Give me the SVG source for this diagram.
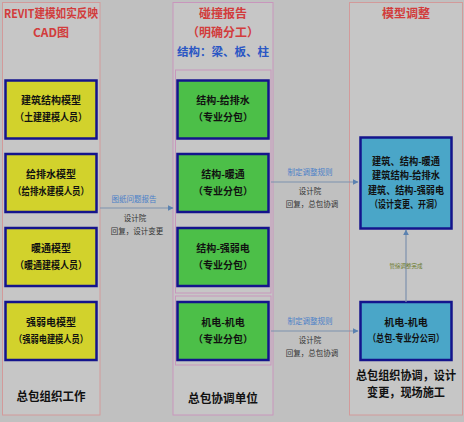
<svg xmlns="http://www.w3.org/2000/svg" width="464" height="422" viewBox="0 0 464 422">
<defs>
<style>
text{font-family:"Noto Sans CJK SC","Liberation Sans",sans-serif;text-anchor:middle}
.panel{fill:#c6c6c6;stroke:#d29a9a;stroke-width:1}
.panelm{fill:#c6c6c6;stroke:#c896bc;stroke-width:1}
.yel{fill:#d2d22c;stroke:#14148c;stroke-width:2.5}
.grn{fill:#4cbf48;stroke:#14148c;stroke-width:2.5}
.blu{fill:#4aa6c8;stroke:#14148c;stroke-width:2.5}
.title{fill:#d23c3c;font-size:12px;font-weight:bold}
.sub{fill:#2a56c4;font-size:11.5px;font-weight:bold}
.bt{fill:#111;font-size:10px;font-weight:bold}
.foot{fill:#111;font-size:12px;font-weight:bold}
.lab{fill:#4a7fc8;font-size:7.5px}
.note{fill:#333;font-size:7.5px}
.tiny{fill:#6a7a2a;font-size:5.5px}
.ln{stroke:#7d91ad;stroke-width:1.2;fill:none}
</style>
<marker id="ah" viewBox="0 0 10 10" refX="9" refY="5" markerWidth="6" markerHeight="6" orient="auto" markerUnits="userSpaceOnUse">
<path d="M0,0 L10,5 L0,10 z" fill="#5b82b0"/>
</marker>
</defs>
<rect x="0" y="0" width="464" height="422" fill="#c0c0c0"/>

<g id="col-left">
<rect class="panel" x="2.5" y="2.5" width="97.5" height="412.5"/>
<text class="title" x="51" y="18" textLength="94" lengthAdjust="spacingAndGlyphs">REVIT建模如实反映</text>
<text class="title" x="51" y="37">CAD图</text>
<text class="foot" x="51" y="401" textLength="69" lengthAdjust="spacingAndGlyphs">总包组织工作</text>
</g>
<g id="col-mid">
<rect class="panelm" x="173" y="2.5" width="100" height="412.5"/>
<rect class="panelm" x="175.5" y="70" width="95.5" height="223"/>
<rect class="panelm" x="175.5" y="296" width="95.5" height="69"/>
<text class="title" x="223" y="18">碰撞报告</text>
<text class="title" x="223" y="37">（明确分工）</text>
<text class="sub" x="223" y="56">结构：梁、板、柱</text>
<text class="foot" x="223" y="403" textLength="70" lengthAdjust="spacingAndGlyphs">总包协调单位</text>
</g>
<g id="col-right">
<rect class="panel" x="349.5" y="2.5" width="113" height="412.5"/>
<text class="title" x="406" y="18">模型调整</text>
<text class="foot" x="406" y="380" textLength="100" lengthAdjust="spacingAndGlyphs">总包组织协调，设计</text>
<text class="foot" x="406" y="397" textLength="78" lengthAdjust="spacingAndGlyphs">变更，现场施工</text>
</g>

<g id="y1"><rect class="yel" x="5.5" y="80.5" width="91" height="58"/>
<text class="bt" x="51" y="104">建筑结构模型</text><text class="bt" x="51" y="121" textLength="72" lengthAdjust="spacingAndGlyphs">（土建建模人员）</text></g>
<g id="y2"><rect class="yel" x="5.5" y="154" width="91" height="58"/>
<text class="bt" x="51" y="178">给排水模型</text><text class="bt" x="51" y="195" textLength="76" lengthAdjust="spacingAndGlyphs">（给排水建模人员）</text></g>
<g id="y3"><rect class="yel" x="5.5" y="228" width="91" height="58"/>
<text class="bt" x="51" y="252">暖通模型</text><text class="bt" x="51" y="269" textLength="72" lengthAdjust="spacingAndGlyphs">（暖通建模人员）</text></g>
<g id="y4"><rect class="yel" x="5.5" y="302" width="91" height="58"/>
<text class="bt" x="51" y="326">强弱电模型</text><text class="bt" x="51" y="343" textLength="74" lengthAdjust="spacingAndGlyphs">（强弱电建模人员）</text></g>

<g id="g1"><rect class="grn" x="177.5" y="80.5" width="91" height="58"/>
<text class="bt" x="223" y="104">结构-给排水</text><text class="bt" x="223" y="121">（专业分包）</text></g>
<g id="g2"><rect class="grn" x="177.5" y="154" width="91" height="58"/>
<text class="bt" x="223" y="178">结构-暖通</text><text class="bt" x="223" y="195">（专业分包）</text></g>
<g id="g3"><rect class="grn" x="177.5" y="228" width="91" height="58"/>
<text class="bt" x="223" y="252">结构-强弱电</text><text class="bt" x="223" y="269">（专业分包）</text></g>
<g id="g4"><rect class="grn" x="177.5" y="302" width="91" height="58"/>
<text class="bt" x="223" y="326">机电-机电</text><text class="bt" x="223" y="343">（专业分包）</text></g>

<g id="b1"><rect class="blu" x="360.5" y="137.5" width="91" height="91"/>
<text class="bt" x="406" y="164.5" textLength="68" lengthAdjust="spacingAndGlyphs">建筑、结构-暖通</text>
<text class="bt" x="406" y="179" textLength="68" lengthAdjust="spacingAndGlyphs">建筑结构-给排水</text>
<text class="bt" x="406" y="193.5" textLength="76" lengthAdjust="spacingAndGlyphs">建筑、结构-强弱电</text>
<text class="bt" x="406" y="208" textLength="72" lengthAdjust="spacingAndGlyphs">（设计变更、开洞）</text></g>
<g id="b2"><rect class="blu" x="360.5" y="302" width="91" height="58"/>
<text class="bt" x="406" y="326">机电-机电</text><text class="bt" x="406" y="342" textLength="76" lengthAdjust="spacingAndGlyphs">（总包-专业分公司）</text></g>

<g id="connectors">
<line class="ln" x1="100" y1="208" x2="173" y2="208" marker-end="url(#ah)"/>
<text class="lab" x="134" y="202">图纸问题报告</text>
<text class="note" x="135" y="221">设计院</text>
<text class="note" x="137" y="234">回复，设计变更</text>
<line class="ln" x1="271" y1="182" x2="358" y2="182" marker-end="url(#ah)"/>
<text class="lab" x="310" y="175">制定调整规则</text>
<text class="note" x="310" y="194">设计院</text>
<text class="note" x="312" y="207">回复，总包协调</text>
<line class="ln" x1="271" y1="331" x2="358" y2="331" marker-end="url(#ah)"/>
<text class="lab" x="310" y="324">制定调整规则</text>
<text class="note" x="310" y="343">设计院</text>
<text class="note" x="312" y="356">回复，总包协调</text>
<line class="ln" x1="406" y1="302" x2="406" y2="230" marker-end="url(#ah)"/>
<text class="tiny" x="406" y="268">管综调整完成</text>
</g>
</svg>
